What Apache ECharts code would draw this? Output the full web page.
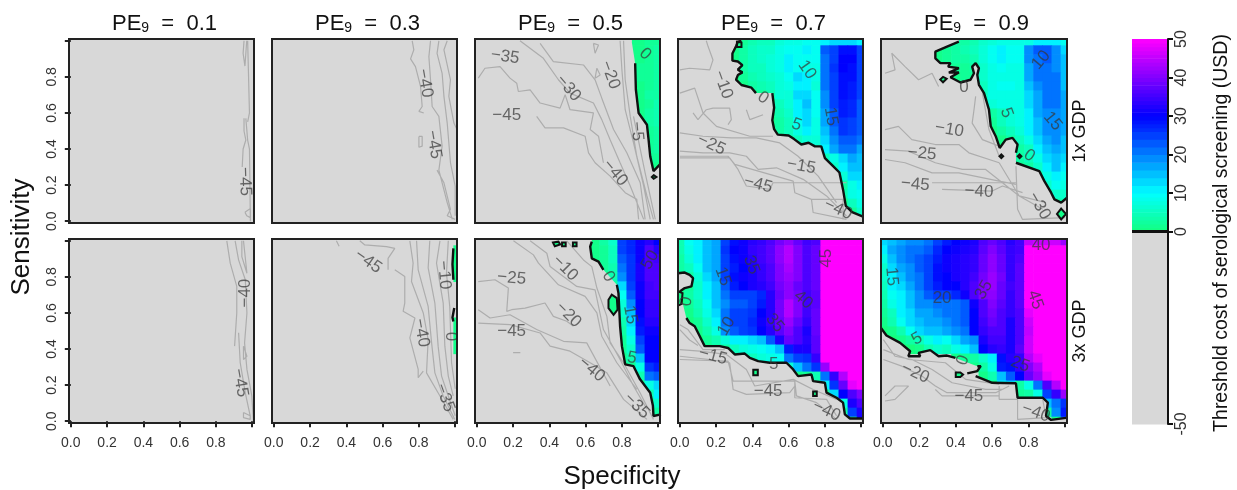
<!DOCTYPE html>
<html><head><meta charset="utf-8">
<style>html,body{margin:0;padding:0;background:#fff}#c{width:1237px;height:490px}canvas{filter:blur(.4px)}</style>
<script src="https://cdn.jsdelivr.net/npm/echarts@6/dist/echarts.min.js"></script>
</head><body><div id="c"></div>
<script>
const peLabels = ['0.1','0.3','0.5','0.7','0.9'];
const gdpLabels = ['1x GDP','3x GDP'];
const axisLabelValues = [0,0.2,0.4,0.6,0.8];
const axisTickValues = [0,0.2,0.4,0.6,0.8,1];
const legendTicks = [-50,0,10,20,30,40,50];
const colorStops = [[0,[20,255,125]],[10,[0,255,255]],[20,[0,128,255]],[30,[0,0,255]],[40,[128,0,255]],[50,[255,0,255]]];
const sensitivityRows = [1,.95,.9,.85,.8,.75,.7,.65,.6,.55,.5,.45,.4,.35,.3,.25,.2,.15,.1,.05,0];
const M = 52;

// Threshold cost, rows from sensitivity 1.0 to 0.0; each row ends at specificity 1.0 (step 0.05)
const heat_05_1x = [[1,1,2,2],[1,1,2,3],[1,1,2,3],[1,2,2,3],[1,2,2,3],[1,1,2,3],[1,1,3,3],[1,1,2,4],[1,1,3,4],[1,1,3,4],[1,1,2,3],[1,2,3],[1,2,3],[1,2,2],[1,1],[1,1],[],[],[],[],[]];
const heat_07_1x = [
[1,2,4,5,5,7,8,8,9,9,11,12,12,12,11],[1,3,5,6,6,8,9,9,10,9,22,25,29,29,24],[1,3,5,6,7,8,10,9,9,9,21,25,30,30,25],
[1,3,5,5,7,8,10,9,8,8,21,26,30,29,25],[0,2,4,5,6,7,9,12,11,8,20,25,29,29,24],[1,3,4,5,7,8,11,10,7,20,25,29,28,24],
[0,1,2,4,7,7,12,12,9,19,24,29,28,24],[1,2,5,7,11,14,9,18,24,28,27,23],[1,4,6,10,12,9,17,23,28,27,23],[1,3,5,9,12,8,16,22,26,25,22],
[1,3,5,8,10,8,14,20,26,24,22],[1,2,3,5,7,7,12,18,23,22,20],[1,2,3,4,5,6,10,16,20,20,17],[2,3,5,8,13,16,15],[1,3,6,10,14,14],
[1,4,7,12,13],[1,3,8,11],[1,4,8,9],[1,5,8],[2,6],[]];
const heat_09_1x = [
[1,2,3,3,4,6,7,8,8,8,8,10,11,11,9],[1,2,3,4,5,7,9,10,9,9,19,22,22,18,13],[1,2,3,3,4,7,9,10,9,9,18,21,22,19,14],
[0,1,2,2,3,6,8,9,8,8,16,20,21,19,15],[0,1,1,2,2,6,8,8,8,8,16,20,21,20,15],[1,5,8,9,9,8,14,18,20,20,15],[1,5,8,8,8,8,13,17,20,20,16],
[1,4,7,8,8,8,12,17,20,20,16],[3,5,7,8,11,16,19,19,16],[2,5,7,8,11,15,19,19,16],[1,3,5,7,10,14,18,19,16],[1,3,5,8,12,17,18,15],
[0,2,3,5,10,15,16,14],[1,3,5,8,13,15,13],[1,2,3,6,11,14,11],[2,3,8,11,9],[1,6,9,8],[1,3,6,6],[1,3,4],[1,2],[1]];
const heat_03_3x = [[],[1],[1],[1],[1],[],[],[],[],[1],[1],[1],[1],[],[],[],[],[],[],[],[]];
const heat_05_3x = [
[1,1,3,6,25,27,31,33,30],[0,1,2,5,24,27,31,36,33],[1,2,5,22,26,31,36,35],[1,2,4,20,26,32,36,36],[1,4,18,26,32,36,36],[1,3,12,25,31,35,36],
[1,2,9,23,31,35,35],[1,7,18,30,34,34],[1,6,15,30,34,34],[1,4,13,29,33,33],[3,10,28,31,31],[2,8,25,30,30],[2,6,22,30,30],[1,4,14,30,30],
[1,2,8,26,28],[1,4,20,22],[2,8,13],[1,4,10],[2,6],[1,3],[1]];
const heat_07_3x = [
[4,9,11,14,17,24,29,31,33,34,36,39,41,38,35,36,M,M,M,M,M],[4,8,11,15,17,26,30,31,34,35,37,41,44,40,36,38,M,M,M,M,M],
[3,7,11,15,17,25,29,31,33,35,37,41,44,40,36,38,M,M,M,M,M],[3,5,9,14,16,24,28,30,32,34,36,40,43,40,36,38,M,M,M,M,M],
[1,3,7,13,16,24,29,31,32,34,36,40,42,40,36,38,M,M,M,M,M],[0,2,6,10,14,22,28,30,32,33,35,39,41,38,36,38,50,M,M,M,M],
[1,3,6,10,15,20,24,25,24,27,33,38,41,39,35,37,50,M,M,M,M],[0,2,5,9,14,19,23,22,24,28,33,39,44,40,35,37,50,M,M,M,M],
[1,1,4,8,12,20,24,24,26,30,33,39,44,40,35,38,50,M,M,M,M],[0,0,2,6,10,20,25,25,27,31,34,38,42,38,34,38,50,M,M,M,M],
[0,0,1,4,8,18,22,24,26,30,33,37,40,36,32,38,50,M,M,M,M],[0,2,4,7,10,11,12,14,22,32,38,36,33,37,50,M,M,M,M],
[1,2,3,5,7,8,9,11,14,28,32,32,37,50,M,M,M,M],[1,3,4,5,7,8,9,20,24,26,34,50,M,M,M,M],[2,4,7,14,20,26,42,50,M,M,M],
[1,2,4,20,34,44,M,M],[1,3,10,26,38,48,50],[1,2,12,30,36,40],[1,8,32,36],[3,24,32],[1,30]];
const heat_09_3x = [
[12,15,17,19,19,20,25,28,30,31,32,36,38,36,33,35,45,46,46,46,42],[10,16,18,20,21,23,27,30,31,32,33,37,40,37,34,35,M,M,M,M,M],
[8,15,18,20,22,24,28,31,32,33,34,38,41,38,34,36,M,M,M,M,M],[6,12,16,19,22,25,29,31,32,33,34,38,41,38,34,37,M,M,M,M,M],
[6,11,15,18,21,25,29,30,32,33,35,39,42,39,34,37,M,M,M,M,M],[5,10,13,16,20,24,28,30,30,33,36,40,42,38,35,37,M,M,M,M,M],
[4,9,11,15,19,22,24,25,27,31,36,40,41,38,34,37,M,M,M,M,M],[3,8,10,14,18,19,20,20,20,22,31,36,40,37,34,37,M,M,M,M,M],
[2,5,10,13,16,17,18,20,20,22,30,36,39,36,34,36,48,M,M,M,M],[1,4,9,12,15,16,17,19,20,22,30,35,38,36,32,36,46,M,M,M,M],
[0,1,4,9,13,14,15,16,18,20,30,34,36,36,32,36,45,M,M,M,M],[0,0,1,3,5,8,10,9,12,16,19,32,35,35,32,36,46,M,M,M,M],
[0,0,0,0,1,4,6,5,8,10,14,30,33,34,32,37,46,M,M,M,M],[1,2,3,6,11,29,33,34,44,48,M,M,M],[1,3,8,28,29,34,40,44,50,M,M],
[1,4,14,22,30,38,42,48,M,M],[1,10,12,3,8,20,36,44,50],[2,3,8,24,34,42],[2,3,14,20,26],[1,3,18,28],[1,20]];

// Zero-cost contour, [specificity, sensitivity]; null marks a gap where a label interrupts it
const zero_03_3x = [[.99,.958],[.985,.87],[.99,.784],null,[.995,.627],[.985,.575],[.99,.553]];
const zero_05_1x = [[.855,.99],null,[.873,.876],[.877,.729],[.892,.6],[.938,.535],[.947,.452],[.956,.36],[.974,.278],[1.01,.315]];
const zero_07_1x = [[.34,1],[.32,.995],[.31,.97],[.29,.93],[.29,.89],[.32,.885],[.345,.865],[.32,.84],[.345,.825],[.32,.81],[.31,.785],[.34,.755],[.395,.74],[.42,.71],null,[.51,.71],[.52,.63],[.51,.56],[.52,.51],[.54,.48],[.6,.475],[.63,.455],[.67,.425],[.71,.435],[.745,.415],[.78,.415],[.8,.35],[.845,.305],[.88,.27],[.9,.175],[.915,.085],[.95,.05],[1.01,.025]];
const zero_09_1x = [[.417,.995],[.352,.968],[.288,.94],[.288,.903],[.316,.876],[.371,.876],[.358,.857],[.417,.848],[.362,.824],[.417,.824],[.371,.798],[.426,.769],[.481,.784],[.5,.82],[.49,.857],[.509,.876],[.527,.848],[.518,.811],[.527,.756],[.555,.71],[.582,.618],[.592,.526],[.619,.471],[.641,.406],[.674,.452],[.711,.462],[.739,.425],[.73,.379],null,[.73,.324],[.858,.278],[.886,.222],[.923,.158],[.941,.121],[.978,.103],[1.01,.13]];
const zero_05_3x = [[.634,.995],[.625,.968],[.634,.903],[.671,.885],[.698,.839],null,[.772,.756],[.781,.71],[.79,.526],[.8,.416],[.818,.315],[.864,.305],[.9,.232],[.956,.158],[.971,.085],[.974,.029],[1.015,.038]];
const zero_07_3x = [[-.01,.82],[.027,.824],[.054,.811],[.073,.793],[.064,.747],[.027,.738],[.018,.728],[0,.719],null,[.036,.572],[.054,.544],[.082,.526],[.11,.471],[.137,.416],[.22,.416],[.266,.406],[.303,.37],[.358,.375],[.386,.351],[.432,.333],[.496,.324],[.588,.324],[.625,.287],[.652,.25],[.726,.259],[.735,.222],[.8,.213],[.809,.158],[.864,.13],[.9,.103],[.91,.038],[.938,.015],[1.01,.015]];
const zero_09_3x = [[-.01,.517],[.02,.475],[.095,.434],[.15,.388],[.14,.36],[.205,.36],[.196,.379],[.26,.394],[.306,.36],[.352,.364],[.398,.351],null,[.518,.305],[.537,.305],[.518,.278],[.463,.265],null,[.509,.25],[.6,.213],[.73,.21],[.739,.13],[.877,.13],[.905,.103],[.895,.029],[.923,.007],[1.015,.02]];

// Closed small zero-cost loops
const loops_05_1x = [[[.975,.255],[.99,.245],[.975,.235],[.965,.245]]];
const loops_07_1x = [[[.315,.995],[.34,.99],[.34,.965],[.315,.965]]];
const loops_09_1x = [[[.33,.8],[.35,.79],[.33,.77],[.315,.785]],[[.978,.07],[1.005,.04],[.978,.01],[.955,.04]],[[.65,.37],[.66,.36],[.65,.35],[.64,.36]],[[.75,.37],[.76,.36],[.75,.35],[.74,.36]]];
const loops_05_3x = [[[.42,.99],[.45,.995],[.46,.98],[.43,.97]],[[.47,.99],[.49,.99],[.49,.97],[.47,.97]],[[.53,.99],[.55,.99],[.55,.97],[.53,.97]],[[.726,.673],[.744,.701],[.772,.682],[.776,.618],[.754,.59],[.726,.627]]];
const loops_07_3x = [[[.405,.285],[.43,.285],[.43,.255],[.405,.255]],[[.735,.165],[.755,.165],[.755,.14],[.735,.14]],[[-.01,.72],[.015,.71],[.01,.65],[-.01,.64]]];
const loops_09_3x = [[[.4,.27],[.425,.27],[.44,.258],[.425,.245],[.4,.245]]];

// Grey negative/positive cost contours, [specificity, sensitivity]
const contours_01_1x = [[[.955,1],[.95,.93],[.96,.86],[.97,1]],[[.975,1],[.98,.8],[.985,.6],[.975,.55]],[[.955,.57],[.955,.5],[.965,.45],[.95,.4],[.945,.3]],[[.965,.57],[.975,.45],[.985,.4],[.99,0]],[[.96,.05],[.97,.03],[.99,.02],[.99,.07],[.96,.05]]];
const contours_03_1x = [[[.763,1],[.772,.95],[.754,.9],[.781,.857],[.809,.747],[.818,.636],[.8,.609],[.827,.6]],[[.864,1],[.855,.912],[.864,.784],[.873,.636],[.91,.581],[.928,.416],[.91,.283],[.956,.103],[.984,.01]],[[.91,1],[.9,.93],[.928,.82],[.938,.692],[.956,.544],[.974,.324],[1,.195],[1,.03]],[[.956,1],[.938,.95],[.974,.784],[.965,.692],[.993,.544],[1.01,.508]],[[.8,.47],[.818,.47],[.818,.416],[.8,.41],[.8,.47]],[[.9,.283],[.938,.213],[.974,.066],[.956,.03],[1,.01]]];
const contours_05_1x = [[[.008,.793],[.045,.848],[.128,.857],[.183,.793],[.22,.765],[.229,.719],[.294,.728],[.349,.655],[.459,.627],[.487,.701],[.514,.618],[.643,.6],[.625,.508],[.671,.471],[.698,.324]],[[.33,.581],[.376,.517],[.478,.517],[.597,.471],[.616,.379],[.652,.324],[.735,.25],[.818,.158],[.882,.121],[.892,.01]],[[.238,1],[.367,.903],[.45,.784],[.514,.71],[.643,.655],[.689,.563],[.735,.452],[.79,.324],[.846,.195],[.92,.01]],[[.349,.986],[.422,.885],[.588,.866],[.652,.784],[.689,.682],[.754,.508],[.827,.379],[.901,.213],[.928,.01]],[[.643,.986],[.652,.931],[.671,.977],[.643,.986]],[[.662,.848],[.68,.811],[.652,.793],[.662,.848]],[[.79,1],[.8,.839],[.818,.618],[.864,.434],[.92,.195],[.956,.01]],[[.809,1],[.818,.784],[.846,.581],[.882,.36],[.938,.14],[.974,.01]],[[.864,.581],[.928,.268],[.984,.01]]];
const contours_07_1x = [[[0,.839],[.054,.848],[.165,.839],[.183,.894],[.156,.968],[.146,1]],[[.073,.6],[.1,.563],[.146,.618],[.183,.627],[.275,.627],[.284,.563],[.266,.535]],[[0,.71],[.082,.738],[.128,.6],[.202,.526],[.386,.471],[.514,.471]],[[0,.49],[.128,.471],[.284,.462],[.422,.462],[.551,.434],[.652,.36],[.763,.25],[.864,.103]],[[0,.388],[.128,.379],[.275,.379],[.367,.36],[.432,.287],[.533,.296],[.68,.232],[.809,.14],[.919,.029]],[[0,.351],[.275,.351],[.321,.287],[.367,.195],[.496,.176],[.514,.213],[.735,.213],[.919,.213]],[[0,.36],[.266,.36],[.303,.315],[.625,.222],[.634,.158],[.726,.121],[.735,.048],[.919,.01]],[[.726,.121],[.9,.121],[.9,.01]],[[.367,.618],[.386,.563],[.459,.59]]];
const contours_09_1x = [[[.012,.82],[.067,.839],[.049,.931],[.122,.857],[.196,.784],[.27,.82],[.306,.747]],[[.012,.508],[.086,.526],[.159,.452],[.288,.425],[.417,.425],[.472,.379],[.638,.324]],[[.012,.342],[.122,.324],[.27,.268],[.417,.268],[.638,.222],[.73,.204]],[[.012,.397],[.141,.388],[.288,.324],[.436,.287],[.564,.287],[.656,.213],[.748,.14],[.895,.103]],[[.27,.213],[.73,.213]],[[.73,.305],[.739,.066],[.766,.01],[1,.02]],[[.325,.176],[.6,.167],[.656,.195],[.766,.158]],[[.638,.324],[.748,.14],[.877,.066]],[[.509,.692],[.5,.618],[.49,.544],[.546,.452],[.638,.416]],[[.546,.71],[.582,.508],[.638,.36]]];
const contours_01_3x = [[[.86,1],[.879,.876],[.915,.747],[.915,.6],[.903,.416]],[[.906,1],[.925,.894],[.962,.784],[.971,.6],[.958,.434],[.971,.287],[.998,.14],[1.007,0]],[[.943,1],[.943,.912],[.971,.82],[.952,1]],[[.952,.416],[.971,.36],[.952,.342],[.952,.416]],[[.952,.048],[.989,.03],[.989,.01],[.952,.02],[.952,.048]],[[.925,.49],[.934,.324],[.962,.157],[.989,.03]]];
const contours_03_3x = [[[.345,1],[.36,.97]],[[.474,1],[.502,.977],[.621,.968],[.667,.958],[.63,.903],[.63,.84]],[[.667,.839],[.722,.802],[.722,.655],[.713,.609],[.778,.572],[.75,.462],[.796,.287],[.796,.241],[.824,.278]],[[.75,1],[.768,.876],[.759,.774],[.824,.6],[.851,.452],[.842,.268],[.916,.14],[.989,.01]],[[.787,1],[.796,.839],[.851,.636],[.87,.434],[.888,.268],[.934,.14],[.998,.01]],[[.86,1],[.851,.85],[.888,.655],[.906,.416],[.925,.25],[.962,.14],[1,.03]],[[.916,1],[.897,.876],[.934,.655],[.943,.416],[.962,.25],[.989,.14]],[[.962,1],[.952,.82],[.97,.636],[.98,.324],[1,.18]]];
const contours_05_3x = [[[.008,.774],[.1,.784],[.174,.738],[.165,.609],[.192,.618],[.266,.627],[.376,.655],[.422,.581],[.496,.554],[.533,.526]],[[.008,.618],[.073,.572],[.183,.59],[.33,.508],[.478,.443],[.606,.434],[.735,.195]],[[.008,.544],[.183,.535],[.349,.489],[.404,.416],[.514,.388],[.625,.324],[.717,.268],[.809,.121],[.938,.01]],[[.202,1],[.312,.922],[.34,.876],[.45,.756],[.597,.692],[.662,.6],[.689,.471],[.772,.324],[.882,.176]],[[.294,1],[.386,.931],[.404,.857],[.551,.747],[.652,.728],[.698,.508],[.79,.342],[.864,.195],[.938,.066]],[[.496,1],[.588,.894],[.634,.857],[.662,.738],[.717,.581],[.735,.434],[.809,.324],[.9,.158],[.974,.01]],[[.2,.38],[.24,.38]]];
const contours_07_3x = [[[0,.535],[.045,.508],[.128,.397],[.248,.397]],[[0,.36],[.165,.342],[.275,.324],[.294,.176],[.367,.149],[.606,.158],[.634,.195]],[[0,.342],[.266,.333],[.294,.222],[.634,.222],[.643,.14],[.754,.103],[.864,.01]],[[0,.397],[.11,.388],[.257,.37],[.367,.287],[.413,.195],[.625,.232],[.735,.176],[.864,.121]],[[.634,.232],[.634,.13],[.809,.121],[.864,.03]],[[0,.508],[.054,.45],[.1,.42]]];
const contours_09_3x = [[[.003,.452],[.067,.36],[.159,.342],[.27,.287],[.38,.213],[.564,.176],[.656,.176]],[[.003,.342],[.104,.305],[.214,.25],[.288,.195],[.352,.158],[.619,.158],[.693,.195]],[[.003,.397],[.141,.342],[.343,.324],[.454,.232],[.638,.204]],[[.012,.14],[.067,.195],[.141,.195],[.067,.121],[.012,.112]],[[.638,.195],[.638,.121],[.739,.121],[.739,.01],[.895,.02],[.877,.121]],[[.288,.176],[.325,.14],[.638,.14]]];

// Contour labels: [specificity, sensitivity, text, rotation]
const labels_01_1x = [[.96,.22,'−45',-88]];
const labels_03_1x = [[.833,.765,'−40',-80],[.882,.425,'−45',-80]];
const labels_05_1x = [[.156,.912,'−35',-8],[.505,.738,'−30',-50],[.735,.811,'−20',-70],[.165,.585,'−45',0],[.882,.498,'−5',-85],[.763,.268,'−40',-50],[.928,.927,'0',-45]];
const labels_07_1x = [[.238,.756,'−10',-70],[.459,.683,'0',-35],[.702,.839,'10',-55],[.643,.535,'5',-20],[.174,.425,'−25',-25],[.833,.581,'15',-80],[.67,.305,'−15',-10],[.432,.204,'−45',-15],[.873,.066,'−40',-25]];
const labels_09_1x = [[.868,.894,'10',50],[.365,.508,'−10',-10],[.678,.6,'5',-70],[.932,.554,'15',-50],[.215,.375,'−25',-5],[.178,.204,'−45',-5],[.527,.164,'−40',-3],[.858,.085,'−30',-60],[.803,.364,'0',-35],[.445,.743,'0',0]];
const labels_01_3x = [[.962,.71,'−40',90],[.934,.213,'−45',-80]];
const labels_03_3x = [[.52,.885,'−45',-35],[.938,.81,'−10',-85],[.814,.49,'−40',-80],[.943,.13,'−35',-70],[.975,.47,'0',-90]];
const labels_05_3x = [[.192,.793,'−25',-5],[.487,.848,'−10',-45],[.726,.802,'0',-60],[.505,.59,'−20',-45],[.192,.499,'−45',0],[.846,.59,'15',-80],[.855,.351,'5',-10],[.634,.287,'−40',-40],[.882,.085,'−35',-45],[.956,.894,'50',60]];
const labels_07_3x = [[.395,.866,'35',-70],[.81,.903,'45',90],[.238,.802,'15',-70],[.036,.664,'0',80],[.68,.673,'40',-40],[.257,.526,'10',60],[.524,.544,'35',-50],[.183,.36,'−15',-15],[.518,.314,'5',0],[.487,.164,'−45',0],[.809,.057,'−40',-25]];
const labels_09_3x = [[.049,.802,'15',-85],[.325,.682,'20',0],[.555,.728,'35',60],[.836,.673,'45',-70],[.868,.977,'40',0],[.187,.456,'5',30],[.439,.338,'0',70],[.753,.315,'25',-20],[.178,.268,'−20',-25],[.472,.14,'−45',0],[.84,.048,'−40',-20]];

const panelLeft = [69,272,475,678,881], panelTop = [39,239], panelW = 185, panelH = 184;
const GREY = '#d8d8d8', INK = '#222', FONT = '"Liberation Sans", Arial, sans-serif';

function colorOf(v){
  if(v>=10 && v<26) v = 10 + Math.floor((v-10)/2)*2 + 1;
  v = Math.max(0,Math.min(50,v));
  for(let i=0;i<colorStops.length-1;i++){
    const a=colorStops[i],b=colorStops[i+1];
    if(v<=b[0]){const t=(v-a[0])/(b[0]-a[0]);
      const c=a[1].map((x,k)=>Math.round(x+(b[1][k]-x)*t));
      return `rgb(${c[0]},${c[1]},${c[2]})`;}
  }
}
const panels = [
 {c:0,r:0,contours:contours_01_1x,labels:labels_01_1x},
 {c:1,r:0,contours:contours_03_1x,labels:labels_03_1x},
 {c:2,r:0,heat:heat_05_1x,zero:zero_05_1x,loops:loops_05_1x,contours:contours_05_1x,labels:labels_05_1x,start:[[-.01,1.01],[.855,1.01]],end:[[1.01,-.01],[-.01,-.01]]},
 {c:3,r:0,heat:heat_07_1x,zero:zero_07_1x,loops:loops_07_1x,contours:contours_07_1x,labels:labels_07_1x,start:[[-.01,1.01],[.34,1.01]],end:[[1.01,-.01],[-.01,-.01]]},
 {c:4,r:0,heat:heat_09_1x,zero:zero_09_1x,loops:loops_09_1x,contours:contours_09_1x,labels:labels_09_1x,start:[[-.01,1.01],[.417,1.01]],end:[[1.01,-.01],[-.01,-.01]]},
 {c:0,r:1,contours:contours_01_3x,labels:labels_01_3x},
 {c:1,r:1,heat:heat_03_3x,zero:zero_03_3x,contours:contours_03_3x,labels:labels_03_3x,start:[[-.01,1.01],[.99,1.01]],end:[[.99,.3],[.99,-.01],[-.01,-.01]]},
 {c:2,r:1,heat:heat_05_3x,zero:zero_05_3x,loops:loops_05_3x,contours:contours_05_3x,labels:labels_05_3x,start:[[-.01,1.01],[.634,1.01]],end:[[1.01,-.01],[-.01,-.01]]},
 {c:3,r:1,heat:heat_07_3x,zero:zero_07_3x,loops:loops_07_3x,contours:contours_07_3x,labels:labels_07_3x,start:[],end:[[1.01,-.01],[-.01,-.01]]},
 {c:4,r:1,heat:heat_09_3x,zero:zero_09_3x,loops:loops_09_3x,contours:contours_09_3x,labels:labels_09_3x,start:[],end:[[1.01,-.01],[-.01,-.01]]}
];
const grid=[],xAxis=[],yAxis=[],series=[],title=[];
const line = pts => pts.map(p=>p?p:['-','-']);
panels.forEach((p,i)=>{
  grid.push({left:panelLeft[p.c],top:panelTop[p.r],width:panelW+(p.c==4?1:0),height:panelH,show:true,backgroundColor:GREY,borderWidth:0});
  xAxis.push({type:'value',gridIndex:i,min:-0.01,max:1.01,splitLine:{show:false},axisLine:{show:false},
    axisTick:{show:p.r==1,length:6,lineStyle:{color:INK,width:2},customValues:axisTickValues},
    axisLabel:{show:p.r==1,fontSize:14,color:'#333',fontFamily:FONT,margin:13,customValues:axisLabelValues,formatter:v=>v.toFixed(1)}});
  yAxis.push({type:'value',gridIndex:i,min:-0.01,max:1.01,splitLine:{show:false},axisLine:{show:false},
    axisTick:{show:p.c==0,length:6,lineStyle:{color:INK,width:2},customValues:axisTickValues},
    axisLabel:{show:p.c==0,fontSize:14,color:'#333',fontFamily:FONT,rotate:90,margin:10,customValues:axisLabelValues,formatter:v=>v.toFixed(1)}});
  const base={xAxisIndex:i,yAxisIndex:i,silent:true,animation:false};
  if(p.heat){
    const cells=[];
    p.heat.forEach((row,ri)=>row.forEach((v,k)=>cells.push([1-(row.length-1-k)*0.05,sensitivityRows[ri],v])));
    series.push({...base,type:'custom',z:1,data:cells,encode:{x:0,y:1},renderItem(params,api){
      const x=api.value(0),y=api.value(1),v=api.value(2),cs=params.coordSys;
      const a=api.coord([x-.025,y+.025]),b=api.coord([x+.025,y-.025]);
      const x0=Math.max(a[0],cs.x),y0=Math.max(a[1],cs.y),x1=Math.min(b[0],cs.x+cs.width),y1=Math.min(b[1],cs.y+cs.height);
      return {type:'rect',shape:{x:x0,y:y0,width:x1-x0+.6,height:y1-y0+.6},style:{fill:colorOf(v)}};
    }});
    const boundary=[...p.start,...p.zero.filter(Boolean),...p.end];
    series.push({...base,type:'custom',z:2,data:[[0,0]],encode:{x:0,y:1},renderItem(params,api){
      return {type:'polygon',shape:{points:boundary.map(q=>api.coord(q))},style:{fill:GREY}};
    }});
  }
  series.push({...base,type:'line',z:3,symbol:'none',lineStyle:{color:'#adadad',width:1.2},connectNulls:false,
    data:p.contours.flatMap(c=>[...c,['-','-']])});
  if(p.loops) p.loops.forEach(l=>series.push({...base,type:'custom',z:4,data:[[0,0]],encode:{x:0,y:1},renderItem(params,api){
    return {type:'polygon',shape:{points:l.map(q=>api.coord(q))},style:{fill:colorOf(1),stroke:'#111',lineWidth:2}};
  }}));
  if(p.zero) series.push({...base,type:'line',z:4,symbol:'none',lineStyle:{color:'#111',width:2.4},connectNulls:false,data:line(p.zero)});
  series.push({...base,type:'custom',z:5,data:p.labels.map(l=>[l[0],l[1]]),encode:{x:0,y:1},renderItem(params,api){
    const l=p.labels[params.dataIndex],c=api.coord([l[0],l[1]]);
    return {type:'text',x:c[0],y:c[1],rotation:l[3]*Math.PI/180,style:{text:l[2],fontSize:17,fontFamily:FONT,fill:'rgba(55,55,55,.72)',align:'center',verticalAlign:'middle'}};
  }});
  series.push({...base,type:'custom',z:10,data:[[0,0]],encode:{x:0,y:1},renderItem(params){
    const c=params.coordSys;
    return {type:'rect',shape:{x:c.x,y:c.y,width:c.width,height:c.height},style:{fill:'none',stroke:INK,lineWidth:2}};
  }});
});
peLabels.forEach((pe,c)=>{
  title.push({text:`PE{s|9}  =  ${pe}`,left:panelLeft[c]+panelW/2-2,top:8,textAlign:'center',
    textStyle:{fontSize:22,fontWeight:'normal',color:'#111',fontFamily:FONT,rich:{s:{fontSize:14,color:'#111',fontFamily:FONT,padding:[8,0,0,0]}}}});
});
// legend bar
const li=panels.length;
const legendLevels=[];
for(let v=0;v<50;v+=(v>=10&&v<26)?2:1) legendLevels.push([v,v+((v>=10&&v<26)?2:1)]);
grid.push({left:1132,top:39,width:36,height:385,show:false});
xAxis.push({type:'value',gridIndex:li,min:0,max:1,show:false});
yAxis.push({type:'value',gridIndex:li,min:-50,max:50,position:'right',z:20,splitLine:{show:false},
  axisLine:{show:true,onZero:false,lineStyle:{color:'#111',width:2}},
  axisTick:{length:5,lineStyle:{color:'#111',width:2},customValues:legendTicks},
  axisLabel:{fontSize:16,color:'#333',fontFamily:FONT,rotate:90,margin:6,customValues:legendTicks}});
const lbase={xAxisIndex:li,yAxisIndex:li,silent:true,animation:false};
series.push({...lbase,type:'custom',z:1,data:[[-50,0],...legendLevels],encode:{y:[0,1]},renderItem(params,api){
  const lo=api.value(0),hi=api.value(1);
  const a=api.coord([0,hi]),b=api.coord([1,lo]);
  return {type:'rect',shape:{x:a[0],y:a[1],width:b[0]-a[0],height:b[1]-a[1]+.6},style:{fill:lo<0?GREY:colorOf((lo+hi)/2)}};
}});
series.push({...lbase,type:'line',z:3,symbol:'none',lineStyle:{color:'#111',width:3},data:[[0,0],[1,0]]});

const txt=(text,x,y,size,rot)=>({type:'text',x,y,rotation:(rot||0)*Math.PI/180,style:{text,fontSize:size,fontFamily:FONT,fill:'#111',align:'center',verticalAlign:'middle'}});
const graphic=[
  txt('Specificity',622,477,26),
  txt('Sensitivity',22,237,26,90),
  txt(gdpLabels[0],1080,131,18,90),
  txt(gdpLabels[1],1080,331,18,90),
  txt('Threshold cost of serological screening (USD)',1222,233,19.5,90)
];
const chart=echarts.init(document.getElementById('c'));
chart.setOption({animation:false,backgroundColor:'#fff',title,grid,xAxis,yAxis,series,graphic});
</script></body></html>
